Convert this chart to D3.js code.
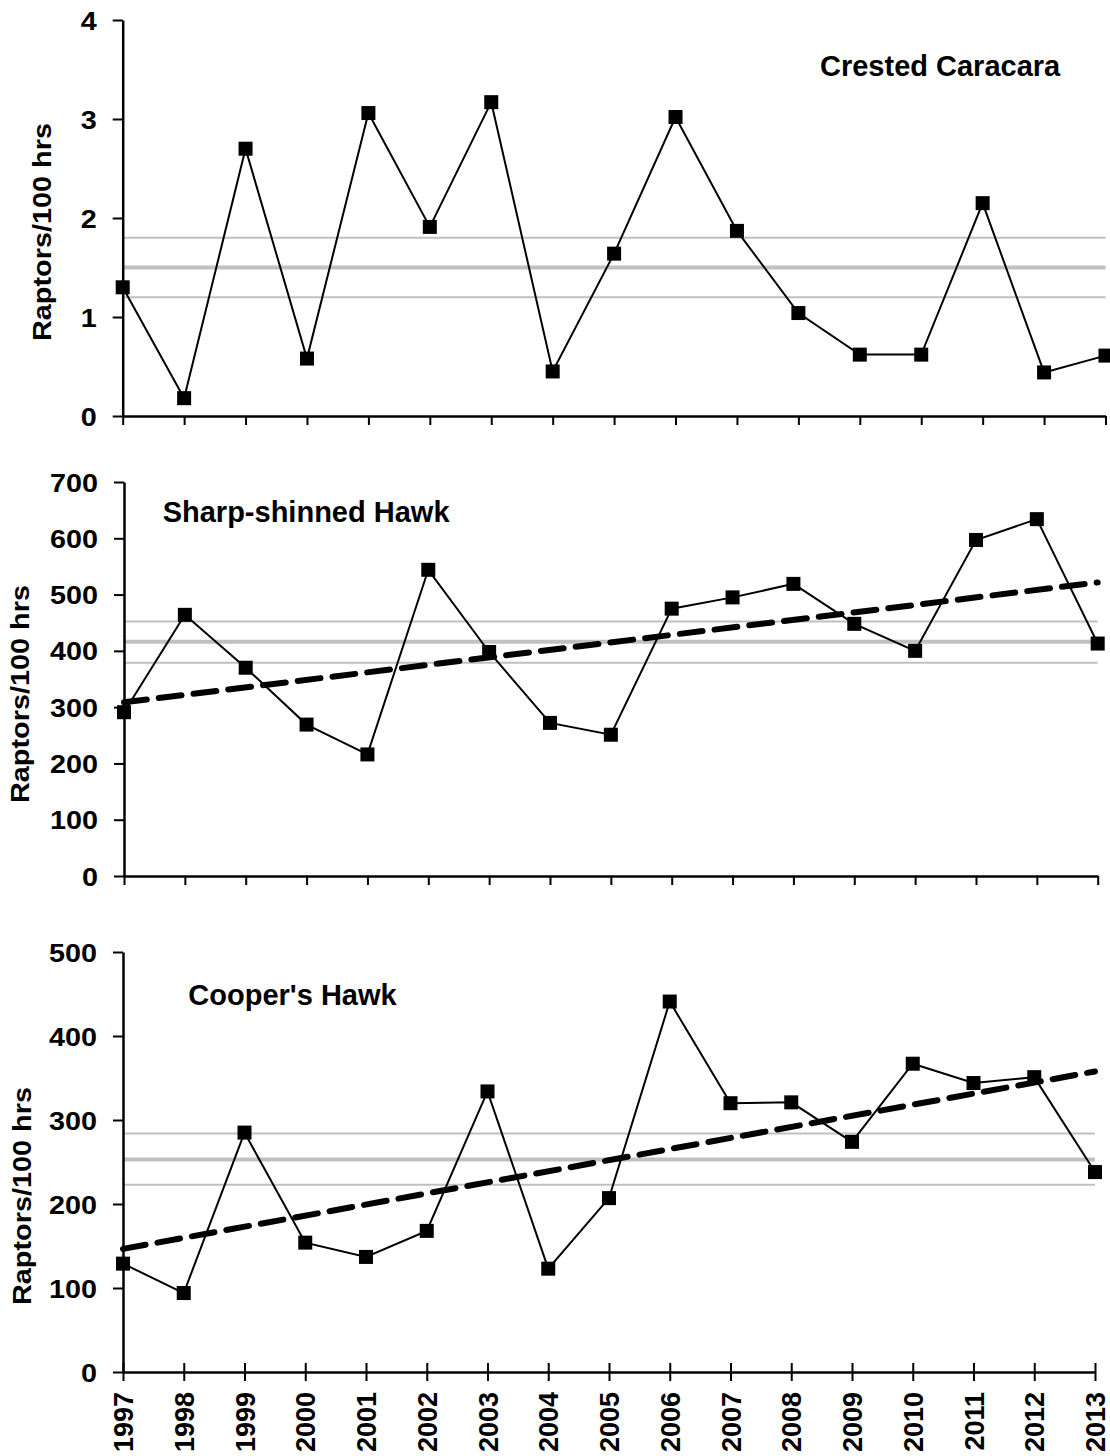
<!DOCTYPE html>
<html>
<head>
<meta charset="utf-8">
<script src="https://cdn.jsdelivr.net/npm/d3@7/dist/d3.min.js"></script>
<style>
  html, body { margin: 0; padding: 0; background: #fff; }
  svg { display: block; }
  text { font-family: "Liberation Sans", Arial, Helvetica, sans-serif; font-weight: bold; fill: #000; }
</style>
</head>
<body>
<svg id="chart" width="1110" height="1456"></svg>
<script>
// Survey years shared by all three panels
const years = [1997, 1998, 1999, 2000, 2001, 2002, 2003, 2004, 2005,
               2006, 2007, 2008, 2009, 2010, 2011, 2012, 2013];

// Passage rates (raptors per 100 observation hours)
const caracaraRates = [1.30, 0.18, 2.70, 0.58, 3.06, 1.91, 3.17, 0.45, 1.64,
                       3.02, 1.87, 1.04, 0.62, 0.62, 2.15, 0.44, 0.61];
const sharpShinnedRates = [291, 464, 370, 269, 216, 544, 398, 272, 251,
                           475, 495, 519, 448, 400, 597, 634, 413];
const coopersRates = [129, 94, 285, 154, 137, 168, 334, 123, 207,
                      441, 320, 321, 274, 367, 344, 351, 238];

// Long-term mean with its lower and upper confidence bounds
const caracaraBand = [1.20, 1.50, 1.80];
const sharpShinnedBand = [379, 416, 452];
const coopersBand = [223, 253, 284];

// Y-axis tick values
const caracaraTicks = [0, 1, 2, 3, 4];
const sharpShinnedTicks = [0, 100, 200, 300, 400, 500, 600, 700];
const coopersTicks = [0, 100, 200, 300, 400, 500];

const speciesNames = ["Crested Caracara", "Sharp-shinned Hawk", "Cooper's Hawk"];
const yLabel = "Raptors/100 hrs";

// Panel layout
const panels = [
  { name: speciesNames[0], values: caracaraRates, band: caracaraBand, ticks: caracaraTicks,
    x0: 122.7, x1: 1105.5, yTop: 20, yBottom: 416, trend: false, crossTicks: false, yearLabels: false,
    title: { x: 820, y: 76 }, label: { x: 41.5, y: 232 } },
  { name: speciesNames[1], values: sharpShinnedRates, band: sharpShinnedBand, ticks: sharpShinnedTicks,
    x0: 124, x1: 1097.7, yTop: 482, yBottom: 876, trend: true, crossTicks: false, yearLabels: false,
    title: { x: 162.7, y: 521.7 }, label: { x: 20, y: 694 } },
  { name: speciesNames[2], values: coopersRates, band: coopersBand, ticks: coopersTicks,
    x0: 123, x1: 1095, yTop: 952, yBottom: 1372, trend: true, crossTicks: true, yearLabels: true,
    title: { x: 188.3, y: 1005 }, label: { x: 22, y: 1196 } }
];

const svg = d3.select("#chart");

// Ordinary least-squares fit of rate against year
function linearFit(xs, ys) {
  const mx = d3.mean(xs), my = d3.mean(ys);
  let sxy = 0, sxx = 0;
  xs.forEach((x, i) => { sxy += (x - mx) * (ys[i] - my); sxx += (x - mx) * (x - mx); });
  const slope = sxy / sxx;
  return x => my + slope * (x - mx);
}

panels.forEach(p => {
  const g = svg.append("g");
  const x = d3.scaleLinear().domain([years[0], years[years.length - 1]]).range([p.x0, p.x1]);
  const y = d3.scaleLinear().domain([p.ticks[0], p.ticks[p.ticks.length - 1]]).range([p.yBottom, p.yTop]);

  // Mean and confidence bounds
  g.selectAll("line.band").data(p.band).enter().append("line")
    .attr("class", "band")
    .attr("x1", x(years[0])).attr("x2", x(years[years.length - 1]))
    .attr("y1", d => y(d)).attr("y2", d => y(d))
    .attr("stroke", "#c0c0c0")
    .attr("stroke-width", (d, i) => i === 1 ? 4 : 2);

  // Linear trend
  if (p.trend) {
    const fit = linearFit(years, p.values);
    const ends = [years[0], years[years.length - 1]];
    g.append("path")
      .datum(ends)
      .attr("d", d3.line().x(d => x(d)).y(d => y(fit(d))))
      .attr("fill", "none")
      .attr("stroke", "#000")
      .attr("stroke-width", 6)
      .attr("stroke-linecap", "round")
      .attr("stroke-dasharray", "23,12");
  }

  // Y axis
  const yAxis = g.append("g")
    .attr("transform", `translate(${p.x0},0)`)
    .call(d3.axisLeft(y).tickValues(p.ticks).tickSize(10).tickSizeOuter(0).tickFormat(d3.format("d")));
  yAxis.select(".domain").attr("stroke", "#000").attr("stroke-width", 2.5);
  yAxis.selectAll(".tick line").attr("stroke", "#000").attr("stroke-width", 2);
  yAxis.selectAll(".tick text")
    .attr("x", 0).attr("dy", "0.36em")
    .attr("transform", "translate(-26,0) scale(1.15,1)")
    .style("font-size", "25px");

  // X axis
  const xAxis = g.append("g")
    .attr("transform", `translate(0,${p.yBottom})`)
    .call(d3.axisBottom(x).tickValues(years).tickSize(9).tickSizeOuter(0).tickFormat(d3.format("d")));
  xAxis.select(".domain").attr("stroke", "#000").attr("stroke-width", 2.5);
  xAxis.selectAll(".tick line").attr("stroke", "#000").attr("stroke-width", 2)
    .attr("y1", p.crossTicks ? -9 : 0);
  if (p.yearLabels) {
    xAxis.selectAll(".tick text")
      .attr("x", 0).attr("y", 0).attr("dy", "0.36em")
      .attr("text-anchor", "end")
      .attr("transform", "translate(0,20) rotate(-90)")
      .style("font-size", "27px");
  } else {
    xAxis.selectAll(".tick text").remove();
  }

  // Observed rates
  g.append("path")
    .datum(p.values)
    .attr("d", d3.line().x((d, i) => x(years[i])).y(d => y(d)))
    .attr("fill", "none")
    .attr("stroke", "#000")
    .attr("stroke-width", 2);

  g.selectAll("rect.marker").data(p.values).enter().append("rect")
    .attr("class", "marker")
    .attr("x", (d, i) => x(years[i]) - 7)
    .attr("y", d => y(d) - 7)
    .attr("width", 14).attr("height", 14)
    .attr("fill", "#000");

  // Species title
  g.append("text")
    .attr("x", p.title.x).attr("y", p.title.y)
    .style("font-size", "29px")
    .text(p.name);

  // Y-axis title
  g.append("text")
    .attr("transform", `translate(${p.label.x},${p.label.y}) rotate(-90)`)
    .attr("text-anchor", "middle")
    .attr("dy", "0.36em")
    .attr("textLength", 218)
    .attr("lengthAdjust", "spacingAndGlyphs")
    .style("font-size", "25px")
    .text(yLabel);
});
</script>
</body>
</html>
